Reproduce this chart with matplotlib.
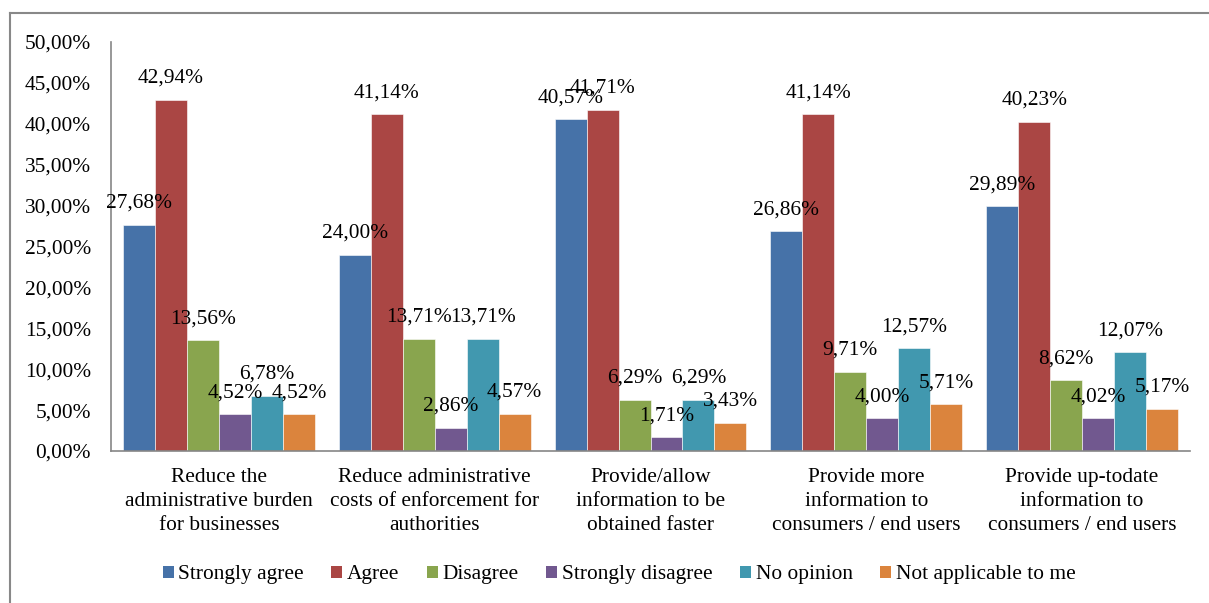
import matplotlib
matplotlib.use("Agg")
import matplotlib.pyplot as plt
from matplotlib.patches import Patch
from matplotlib.lines import Line2D
import numpy as np

categories = [
    "Reduce the\nadministrative burden\nfor businesses",
    "Reduce administrative\ncosts of enforcement for\nauthorities",
    "Provide/allow\ninformation to be\nobtained faster",
    "Provide more\ninformation to\nconsumers / end users",
    "Provide up-todate\ninformation to\nconsumers / end users",
]
series_names = ["Strongly agree", "Agree", "Disagree", "Strongly disagree",
                "No opinion", "Not applicable to me"]
strongly_agree = [27.68, 24.00, 40.57, 26.86, 29.89]
agree = [42.94, 41.14, 41.71, 41.14, 40.23]
disagree = [13.56, 13.71, 6.29, 9.71, 8.62]
strongly_disagree = [4.52, 2.86, 1.71, 4.00, 4.02]
no_opinion = [6.78, 13.71, 6.29, 12.57, 12.07]
not_applicable = [4.52, 4.57, 3.43, 5.71, 5.17]
series_values = [strongly_agree, agree, disagree, strongly_disagree,
                 no_opinion, not_applicable]
colors = ["#4672A8", "#AA4644", "#89A54E", "#71588F", "#4198AF", "#DB843D"]
yticks = [0, 5, 10, 15, 20, 25, 30, 35, 40, 45, 50]

def fmt(v):
    return f"{v:.2f}".replace(".", ",") + "%"

plt.rcParams['font.family'] = ['Liberation Serif', 'DejaVu Serif']
FS = 15.4

W, H = 1209, 603
fig = plt.figure(figsize=(W / 100, H / 100), dpi=100)
ax = fig.add_axes([111 / W, 1 - 451 / H, (1190 - 111) / W, (451 - 42) / H])

x = np.arange(len(categories))
bw = 32 / 216
n = len(series_values)
for i, (vals, col, name) in enumerate(zip(series_values, colors, series_names)):
    pos = x + (i - (n - 1) / 2) * bw
    ax.bar(pos, vals, width=bw, color=col, edgecolor="#ffffff", linewidth=0.4, zorder=2)
    for px, v in zip(pos, vals):
        ax.annotate(fmt(v), (px, v), xytext=(0, 12.2), textcoords="offset points",
                    ha="center", va="baseline", fontsize=FS, color="black", zorder=3)

ax.set_xlim(-0.5, len(categories) - 0.5)
ax.set_ylim(0, 50)
ax.set_yticks(yticks)
ax.set_yticklabels([fmt(v) for v in yticks], fontsize=FS)
ax.set_xticks(x)
ax.set_xticklabels(categories, fontsize=FS, linespacing=1.38)
ax.tick_params(axis="y", length=0, pad=14.4)
ax.tick_params(axis="x", length=0, pad=12)
for s in ["top", "right"]:
    ax.spines[s].set_visible(False)
for s in ["left", "bottom"]:
    ax.spines[s].set_color("#868686")
    ax.spines[s].set_linewidth(1.2)

handles = [Patch(facecolor=c, edgecolor="none") for c in colors]
fig.legend(handles, series_names, loc="center", bbox_to_anchor=(619 / W, 1 - 575 / H),
           ncol=6, frameon=False, fontsize=FS, handlelength=0.52, handleheight=0.52,
           handletextpad=0.2, columnspacing=1.3, borderaxespad=0, borderpad=0)

# outer chart border (left and top visible)
fig.add_artist(Line2D([10 / W, 10 / W], [0, 1 - 13 / H], transform=fig.transFigure,
                      color="#888888", linewidth=1.5))
fig.add_artist(Line2D([10 / W, 1], [1 - 13 / H, 1 - 13 / H], transform=fig.transFigure,
                      color="#888888", linewidth=1.5))

fig.savefig("out.png", dpi=100)
